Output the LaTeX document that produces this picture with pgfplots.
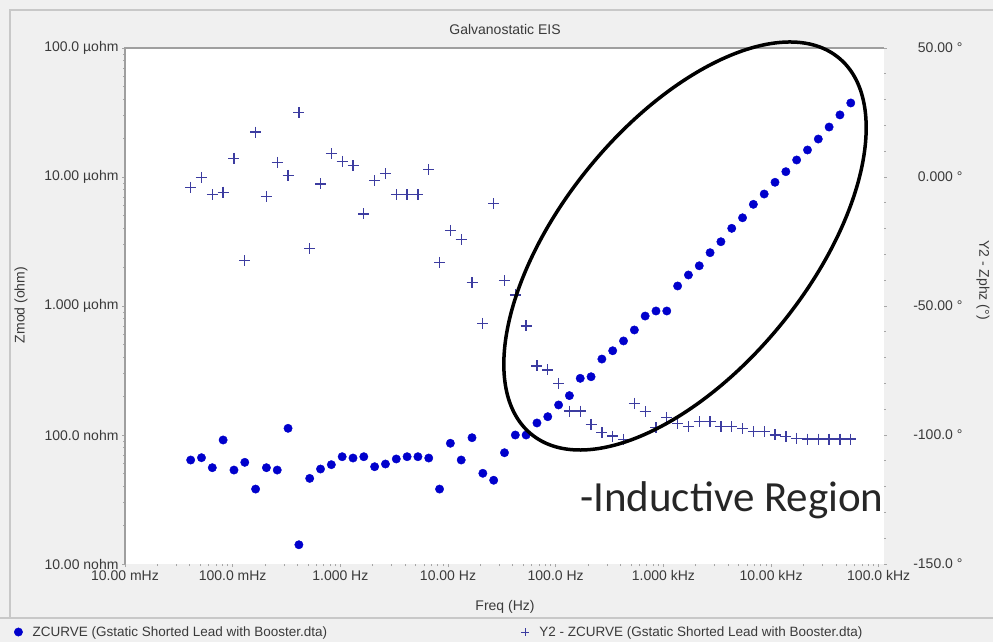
\documentclass[border=0pt]{standalone}
\usepackage{pgfplots}
\pgfplotsset{compat=1.18}
\usepackage{pgfplotstable}
\usepackage{fontspec}
\setmainfont{Liberation Sans}
\newfontfamily\calib{Carlito}

\definecolor{bg}{HTML}{F0F0F0}
\definecolor{framec}{HTML}{C8C8C8}
\definecolor{zblue}{HTML}{0000CC}
\definecolor{pblue}{HTML}{3C3CA0}
\definecolor{txt}{HTML}{3A3A3A}

% freq (Hz), Zmod (ohm), phase (deg)
\pgfplotstableread{
f z p
0.04074 6.40e-8 -4.0
0.05133 6.67e-8 -0.1
0.06471 5.58e-8 -6.8
0.08155 9.15e-8 -5.9
0.1028 5.35e-8 7.2
0.1296 6.14e-8 -32.4
0.1633 3.81e-8 17.4
0.2058 5.58e-8 -7.5
0.2594 5.35e-8 5.7
0.3269 1.127e-7 0.6
0.4121 1.41e-8 24.9
0.5193 4.61e-8 -27.8
0.6546 5.45e-8 -2.7
0.8250 5.89e-8 9.0
1.040 6.79e-8 6.1
1.311 6.63e-8 4.4
1.652 6.79e-8 -14.3
2.082 5.68e-8 -1.4
2.624 5.96e-8 1.3
3.308 6.52e-8 -6.8
4.169 6.79e-8 -6.8
5.254 6.79e-8 -6.8
6.622 6.63e-8 2.9
8.347 3.81e-8 -33.1
10.52 8.63e-8 -20.7
13.26 6.40e-8 -24.3
16.71 9.53e-8 -41.0
21.06 5.05e-8 -56.7
26.55 4.46e-8 -10.4
33.46 7.29e-8 -40.2
42.17 1.00e-7 -45.7
53.15 1.00e-7 -57.7
66.99 1.24e-7 -73.2
84.44 1.387e-7 -74.8
106.4 1.71e-7 -80.0
134.1 2.02e-7 -90.7
169.0 2.75e-7 -90.7
213.1 2.83e-7 -95.9
268.5 3.88e-7 -99.1
338.5 4.50e-7 -100.4
426.6 5.36e-7 -101.7
537.7 6.52e-7 -87.7
677.7 8.36e-7 -91.0
854.2 9.15e-7 -97.2
1076 9.15e-7 -93.2
1357 1.43e-6 -95.5
1710 1.74e-6 -96.8
2155 2.05e-6 -94.9
2716 2.59e-6 -94.9
3424 3.15e-6 -96.8
4315 4.00e-6 -96.8
5439 4.83e-6 -97.5
6855 6.14e-6 -98.7
8640 7.38e-6 -98.7
10890 9.10e-6 -100.0
13730 1.10e-5 -100.7
17300 1.355e-5 -101.3
21810 1.62e-5 -101.6
27480 1.97e-5 -101.6
34640 2.44e-5 -101.6
43650 3.03e-5 -101.6
55020 3.75e-5 -101.6
}\eis

\begin{document}
\begin{tikzpicture}[x=1pt,y=1pt]
\path[use as bounding box] (0,0) rectangle (993,642);
\clip (0,0) rectangle (993,642);
\fill[bg] (0,0) rectangle (993,642);
\draw[framec, line width=1.2pt] (10,24) -- (10,632) -- (993,632);
\draw[framec, line width=1.2pt] (0,24) -- (993,24);

\begin{axis}[
  at={(125pt,78pt)}, anchor=south west,
  scale only axis, width=759pt, height=516pt,
  xmode=log, xmin=0.01, xmax=1.12e5,
  ymode=log, ymin=1e-8, ymax=1e-4,
  axis line style={draw=none},
  axis background/.style={fill=white},
  tick align=outside,
  major tick length=3pt, minor tick length=2pt,
  tick style={gray!70, line width=0.7pt},
  tick label style={font=\fontsize{14}{17}\selectfont, text=txt},
  xtick={0.01,0.1,1,10,100,1000,10000,100000},
  xticklabels={10.00 mHz,100.0 mHz,1.000 Hz,10.00 Hz,100.0 Hz,1.000 kHz,10.00 kHz,100.0 kHz},
  ytick={1e-8,1e-7,1e-6,1e-5,1e-4},
  yticklabels={10.00 nohm,100.0 nohm,1.000 µohm,10.00 µohm,100.0 µohm},
  xtick pos=lower, ytick pos=left,
  legend style={draw=none, fill=none, inner sep=0pt,
    at={(-0.1462,-0.1318)}, anchor=west,
    font=\fontsize{13.5}{16}\selectfont, text=txt,
    /tikz/every odd column/.append style={column sep=8pt},
    /tikz/every even column/.append style={column sep=192pt}},
  legend columns=2,
]
\addplot[only marks, mark=*, mark size=4.2pt, mark options={draw=zblue, fill=zblue}]
  table[x=f, y=z] {\eis};
\addlegendentry{ZCURVE (Gstatic Shorted Lead with Booster.dta)}
\addlegendimage{only marks, mark=+, mark size=4pt, mark options={draw=pblue, line width=1pt}}
\addlegendentry{Y2 - ZCURVE (Gstatic Shorted Lead with Booster.dta)}
\end{axis}

\begin{axis}[
  at={(125pt,78pt)}, anchor=south west,
  scale only axis, width=759pt, height=516pt,
  xmode=log, xmin=0.01, xmax=1.12e5,
  ymin=-150, ymax=50,
  axis line style={draw=none},
  hide x axis,
  tick align=outside,
  major tick length=3pt, minor tick length=2pt,
  tick style={gray!70, line width=0.7pt},
  tick label style={font=\fontsize{14}{17}\selectfont, text=txt},
  ytick={-150,-100,-50,0,50},
  yticklabels={-150.0 °,-100.0 °,-50.00 °,0.000 °,50.00 °},
  minor y tick num=4,
  ytick pos=right,
  yticklabel style={anchor=east, xshift=79pt},
]
\addplot[only marks, mark=+, mark size=5.5pt, mark options={draw=pblue, line width=1.3pt}]
  table[x=f, y=p] {\eis};
\end{axis}

\draw[gray!75, line width=1.2pt] (125,78) -- (125,594) -- (884,594);

\draw[black, line width=3.5pt, rotate around={50.8:(685,396)}] (685,396) ellipse (243 and 124);
\node[anchor=base west, font=\calib\fontsize{43}{48}\selectfont, text=black!85, inner sep=0pt]
  at (580,130) {-Inductive Region};

\node[font=\fontsize{14}{17}\selectfont, text=txt] at (505,612) {Galvanostatic EIS};
\node[font=\fontsize{14}{17}\selectfont, text=txt] at (505,35) {Freq (Hz)};
\node[font=\fontsize{14}{17}\selectfont, text=txt, rotate=90] at (21,337) {Zmod (ohm)};
\node[font=\fontsize{14}{17}\selectfont, text=txt, rotate=-90, inner sep=1pt] at (983,362) {Y2 - Zphz (°)};
\end{tikzpicture}
\end{document}
